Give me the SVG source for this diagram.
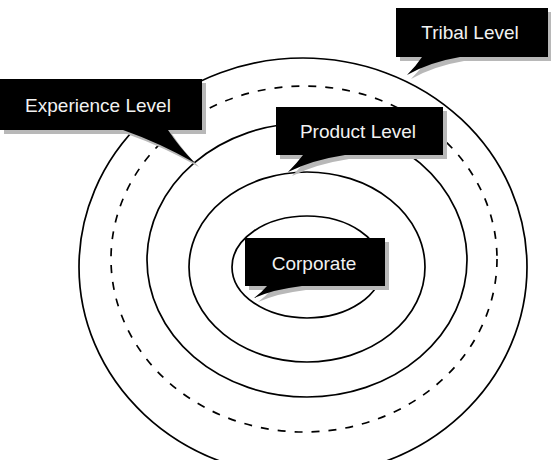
<svg xmlns="http://www.w3.org/2000/svg" width="551" height="460" viewBox="0 0 551 460">
<style>
.ring{fill:none;stroke:#000;stroke-width:1.7}
.dash{stroke-dasharray:8 9}
.shadow{fill:#b8b8b8}
.box{fill:#000}
.lbl{fill:#f2f2f2;font-family:"Liberation Sans",Arial,sans-serif;font-size:19px;text-anchor:middle}
</style>
<rect width="551" height="460" fill="#fff"/>
<g id="rings">
<ellipse class="ring" cx="303" cy="267" rx="224" ry="209"/>
<ellipse class="ring dash" cx="304" cy="259" rx="193" ry="173"/>
<ellipse class="ring" cx="307" cy="260" rx="160" ry="137"/>
<ellipse class="ring" cx="307" cy="267" rx="118" ry="95"/>
<ellipse class="ring" cx="307" cy="267" rx="75" ry="51"/>
</g>
<g id="connectors"></g>
<g id="tribal">
<path class="shadow" transform="translate(4,4)" d="M396 8H548V57H460Q430 62 407 75Q416 66 422 57H396Z"/>
<path class="box" d="M396 8H548V57H460Q430 62 407 75Q416 66 422 57H396Z"/>
<text class="lbl" x="470" y="38.5">Tribal Level</text>
</g>
<g id="experience">
<path class="shadow" transform="translate(4,4)" d="M0 79H202V130H168Q180 148 195 163Q160 143 123 130H0Z"/>
<path class="box" d="M0 79H202V130H168Q180 148 195 163Q160 143 123 130H0Z"/>
<text class="lbl" x="98" y="112">Experience Level</text>
</g>
<g id="product">
<path class="shadow" transform="translate(4,4)" d="M276 107H443V155H345Q312 160 288 172Q297 163 303 155H276Z"/>
<path class="box" d="M276 107H443V155H345Q312 160 288 172Q297 163 303 155H276Z"/>
<text class="lbl" x="358" y="138">Product Level</text>
</g>
<g id="corporate">
<path class="shadow" transform="translate(4,4)" d="M245 238H385V286H302Q275 289 254 298Q262 292 267 286H245Z"/>
<path class="box" d="M245 238H385V286H302Q275 289 254 298Q262 292 267 286H245Z"/>
<text class="lbl" x="314" y="270">Corporate</text>
</g>
</svg>
